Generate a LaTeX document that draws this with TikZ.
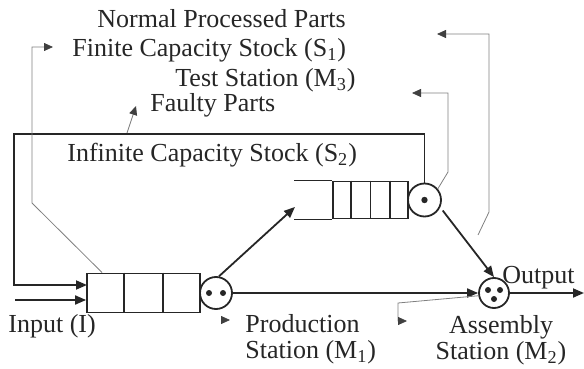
\documentclass[tikz,border=0pt]{standalone}
\usepackage{fontspec}
\setmainfont{Liberation Serif}
\usetikzlibrary{arrows.meta,calc}

\tikzset{
  line/.style={draw=black!85, line width=0.9pt},
  flow/.style={line, -{Triangle[length=5.5pt,width=4.5pt]}},
  pointer/.style={draw=black!50, line width=0.4pt, -{Triangle[length=4.5pt,width=4pt,color=black!75]}},
  stock/.style={rectangle, draw=black!85, line width=0.9pt, inner sep=0pt},
  server/.style={circle, draw=black!85, line width=0.9pt, inner sep=0pt},
  part/.style={circle, fill=black!85, inner sep=0pt, minimum size=3pt},
  lbl/.style={inner sep=0pt, text=black!85, font=\fontsize{13}{13}\selectfont},
}

\begin{document}
\begin{tikzpicture}[x=0.5pt, y=-0.5pt]
\useasboundingbox (0,0) rectangle (584,369);

% finite stock S1 and production station M1
\node[stock, minimum width=56.5pt, minimum height=19.5pt] (S1) at (143.5,293) {};
\draw[line] ($(S1.north west)!1/3!(S1.north east)$) -- ($(S1.south west)!1/3!(S1.south east)$);
\draw[line] ($(S1.north west)!2/3!(S1.north east)$) -- ($(S1.south west)!2/3!(S1.south east)$);
\node[server, minimum size=16pt] (M1) at (216,293) {};
\node[part] (m1a) at ($(M1)+(-7,0)$) {};
\node[part] (m1b) at ($(M1)+(7,0)$) {};

% infinite stock S2 and test station M3
\node[stock, minimum width=37.5pt, minimum height=18.5pt] (S2) at (370.5,200) {};
\draw[line] (S2.north west) -- ++(-38,0);
\draw[line] (S2.south west) -- ++(-38,0);
\draw[line] ($(S2.north west)!1/4!(S2.north east)$) -- ($(S2.south west)!1/4!(S2.south east)$);
\draw[line] ($(S2.north west)!2/4!(S2.north east)$) -- ($(S2.south west)!2/4!(S2.south east)$);
\draw[line] ($(S2.north west)!3/4!(S2.north east)$) -- ($(S2.south west)!3/4!(S2.south east)$);
\node[server, minimum size=16.5pt] (M3) at (424.5,200) {};
\node[part, minimum size=3.2pt] (m3a) at (M3) {};

% assembly station M2
\node[server, minimum size=15pt] (M2) at (494,293) {};
\node[part] (m2a) at ($(M2)+(-6,-3)$) {};
\node[part] (m2b) at ($(M2)+(6,-3)$) {};
\node[part] (m2c) at ($(M2)+(0,6)$) {};

% flow of parts
\coordinate (in) at (15,300);
\coordinate (fb) at (14,134);
\coordinate (fbin) at (87,285);
\coordinate (S2in) at (295,207);
\coordinate (out) at (584,293);
\draw[flow] (in) -- (in -| S1.west);
\draw[flow] (M3.north) |- (fb) |- (fbin);
\draw[flow] (M1.80) -- (S2in);
\draw[flow] (M1.east) -- (M2.west);
\draw[flow, shorten <=2pt] (M3.-25) -- (M2.north);
\draw[flow] (M2.east) -- (out);

% labels
\node[lbl, anchor=base west] (lblNormal) at (97,28) {Normal Processed Parts};
\node[lbl, anchor=base west] (lblS1) at (72,57) {Finite Capacity Stock (S\textsubscript{1})};
\node[lbl, anchor=base west] (lblM3) at (175,87) {Test Station (M\textsubscript{3})};
\node[lbl, anchor=base west] (lblFaulty) at (150,112) {Faulty Parts};
\node[lbl, anchor=base west] (lblS2) at (67,162) {Infinite Capacity Stock (S\textsubscript{2})};
\node[lbl, anchor=base west] (lblIn) at (8,332) {Input (I)};
\node[lbl, anchor=base west] (lblOut) at (502,283) {Output};
\node[lbl, align=left, anchor=north west] (lblM1) at (245,314) {Production\\Station (M\textsubscript{1})};
\node[lbl, align=center, anchor=north] (lblM2) at (501,315) {Assembly\\Station (M\textsubscript{2})};

% pointers from the parts to their labels
\coordinate (tipS1) at (53,47);
\coordinate (tipFaulty) at (136,106);
\coordinate (tipM3) at (412,93);
\coordinate (tipNormal) at (437,34);
\coordinate (tipM1) at (230,320);
\coordinate (tipM2) at (407,321);
\draw[pointer] ($(S1.north west)+(16,0)$) -- (32,203) |- (tipS1);
\draw[pointer] (127,133) -- (tipFaulty);
\draw[pointer] (M3.40) -- (448,172) |- (tipM3);
\draw[pointer] (478,235) -- (489,212) |- (tipNormal);
\draw[pointer] (M2.190) -- (398,303) |- (tipM2);
\draw[pointer] ($(tipM1)+(-8,0)$) -- (tipM1);
\end{tikzpicture}
\end{document}
